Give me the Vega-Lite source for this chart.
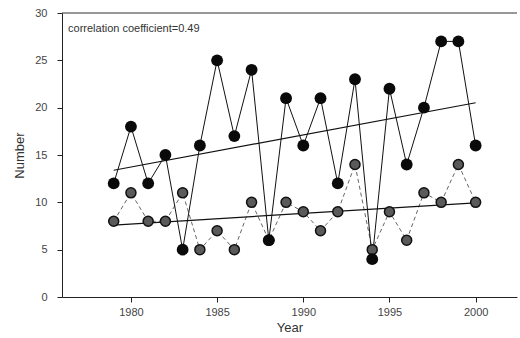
{
  "$schema": "https://vega.github.io/schema/vega-lite/v6.json",
  "width": 455,
  "height": 284,
  "autosize": "none",
  "padding": {"left": 62, "top": 13, "right": 3, "bottom": 41},
  "background": "white",
  "config": {
    "view": {"stroke": null},
    "font": "Liberation Sans",
    "axis": {"grid": false, "domainColor": "#222", "tickColor": "#222", "labelColor": "#444", "labelFontSize": 11, "titleFontSize": 13, "titleFontWeight": "normal", "titleColor": "#333", "labelFont": "Liberation Sans", "titleFont": "Liberation Sans"}
  },
  "datasets": {
    "counts": [
      {"year": 1979, "series": "A", "value": 12}, {"year": 1980, "series": "A", "value": 18},
      {"year": 1981, "series": "A", "value": 12}, {"year": 1982, "series": "A", "value": 15},
      {"year": 1983, "series": "A", "value": 5}, {"year": 1984, "series": "A", "value": 16},
      {"year": 1985, "series": "A", "value": 25}, {"year": 1986, "series": "A", "value": 17},
      {"year": 1987, "series": "A", "value": 24}, {"year": 1988, "series": "A", "value": 6},
      {"year": 1989, "series": "A", "value": 21}, {"year": 1990, "series": "A", "value": 16},
      {"year": 1991, "series": "A", "value": 21}, {"year": 1992, "series": "A", "value": 12},
      {"year": 1993, "series": "A", "value": 23}, {"year": 1994, "series": "A", "value": 4},
      {"year": 1995, "series": "A", "value": 22}, {"year": 1996, "series": "A", "value": 14},
      {"year": 1997, "series": "A", "value": 20}, {"year": 1998, "series": "A", "value": 27},
      {"year": 1999, "series": "A", "value": 27}, {"year": 2000, "series": "A", "value": 16},
      {"year": 1979, "series": "B", "value": 8}, {"year": 1980, "series": "B", "value": 11},
      {"year": 1981, "series": "B", "value": 8}, {"year": 1982, "series": "B", "value": 8},
      {"year": 1983, "series": "B", "value": 11}, {"year": 1984, "series": "B", "value": 5},
      {"year": 1985, "series": "B", "value": 7}, {"year": 1986, "series": "B", "value": 5},
      {"year": 1987, "series": "B", "value": 10}, {"year": 1988, "series": "B", "value": 6},
      {"year": 1989, "series": "B", "value": 10}, {"year": 1990, "series": "B", "value": 9},
      {"year": 1991, "series": "B", "value": 7}, {"year": 1992, "series": "B", "value": 9},
      {"year": 1993, "series": "B", "value": 14}, {"year": 1994, "series": "B", "value": 5},
      {"year": 1995, "series": "B", "value": 9}, {"year": 1996, "series": "B", "value": 6},
      {"year": 1997, "series": "B", "value": 11}, {"year": 1998, "series": "B", "value": 10},
      {"year": 1999, "series": "B", "value": 14}, {"year": 2000, "series": "B", "value": 10}
    ],
    "note": [{"year": 1976.35, "value": 28.3, "label": "correlation coefficient=0.49"}]
  },
  "data": {"name": "counts"},
  "encoding": {
    "x": {"field": "year", "type": "quantitative", "scale": {"domain": [1976, 2002.4], "nice": false, "zero": false},
          "axis": {"title": "Year", "values": [1980, 1985, 1990, 1995, 2000], "format": "d", "tickSize": 5, "labelPadding": 4, "titlePadding": 4}},
    "y": {"field": "value", "type": "quantitative", "scale": {"domain": [0, 30], "nice": false},
          "axis": {"title": "Number", "values": [0, 5, 10, 15, 20, 25, 30], "tickSize": 5, "labelPadding": 10, "titlePadding": 8}}
  },
  "layer": [
    {
      "data": {"values": [{"top": 30}]},
      "mark": {"type": "rule", "color": "#333", "strokeWidth": 1},
      "encoding": {"y": {"field": "top", "type": "quantitative"}, "x": {"value": 0}, "x2": {"value": 455}}
    },
    {
      "transform": [{"filter": "datum.series === 'B'"}],
      "mark": {"type": "line", "color": "#666", "strokeWidth": 1, "strokeDash": [4, 3]},
      "encoding": {}
    },
    {
      "transform": [{"filter": "datum.series === 'A'"}],
      "mark": {"type": "line", "color": "#111", "strokeWidth": 1},
      "encoding": {}
    },
    {
      "transform": [{"regression": "value", "on": "year", "groupby": ["series"], "extent": [1979, 2000]}],
      "mark": {"type": "line", "color": "#111", "strokeWidth": 1.2},
      "encoding": {"detail": {"field": "series"}}
    },
    {
      "transform": [{"filter": "datum.series === 'B'"}],
      "mark": {"type": "point", "filled": true, "fill": "#5a5a5a", "stroke": "#111", "strokeWidth": 1.5, "size": 100, "opacity": 1},
      "encoding": {}
    },
    {
      "transform": [{"filter": "datum.series === 'A'"}],
      "mark": {"type": "point", "filled": true, "fill": "#0a0a0a", "size": 140, "opacity": 1},
      "encoding": {}
    },
    {
      "data": {"name": "note"},
      "mark": {"type": "text", "align": "left", "baseline": "middle", "fontSize": 11, "color": "#333", "font": "Liberation Sans"},
      "encoding": {"text": {"field": "label"}}
    }
  ]
}
